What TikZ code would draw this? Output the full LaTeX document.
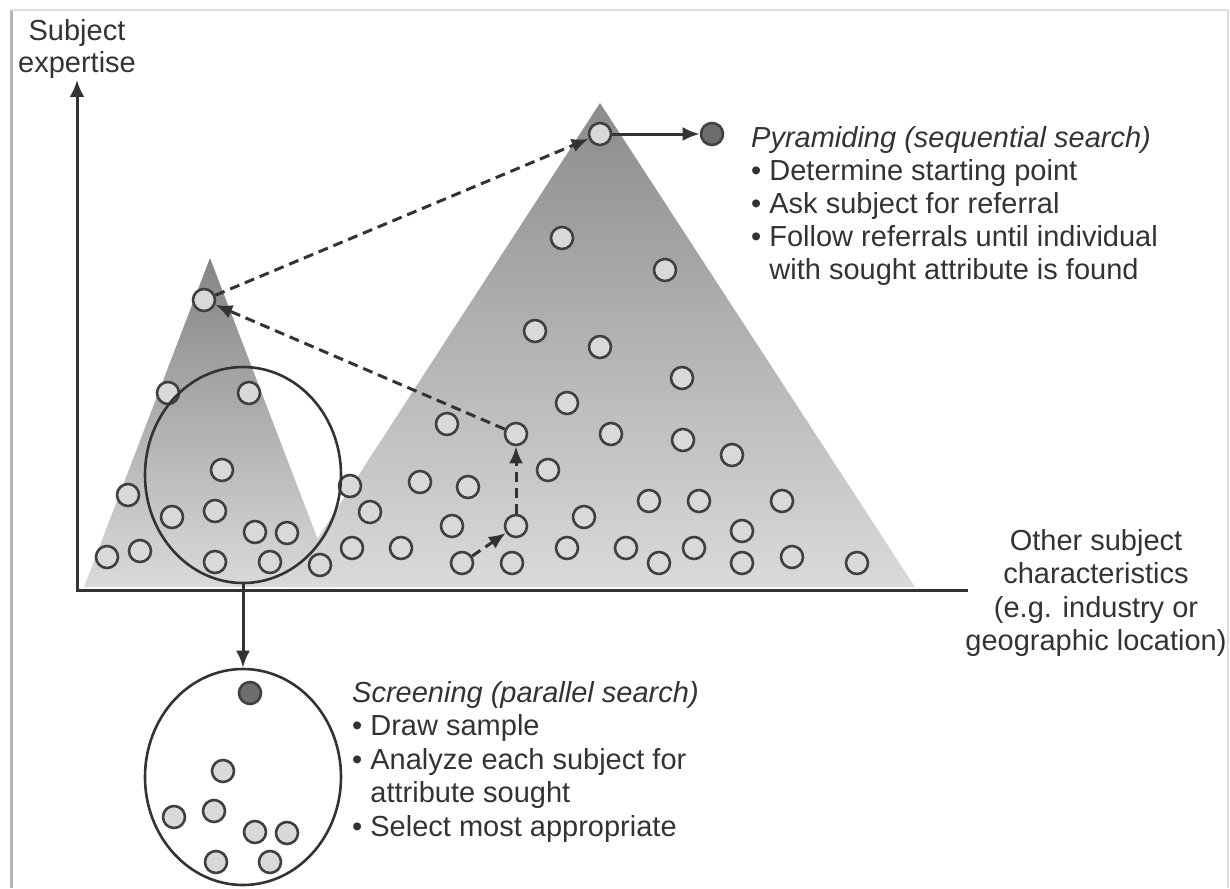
\documentclass[tikz,border=0pt]{standalone}
\usepackage{fontspec}
\setmainfont{Liberation Sans}
\usetikzlibrary{arrows.meta,shapes.geometric}
\definecolor{ink}{HTML}{333333}
\definecolor{dotline}{HTML}{404040}
\definecolor{dotfill}{HTML}{D9D9D9}
\definecolor{hitfill}{HTML}{6E6E6E}
\definecolor{pyrtop}{HTML}{8C8C8C}
\definecolor{pyrtopS}{HTML}{858585}
\definecolor{pyrbot}{HTML}{DADADA}
\definecolor{frameL}{HTML}{B4B4B4}
\definecolor{frameT}{HTML}{DCDCDC}
\begin{document}
\begin{tikzpicture}[x=1pt,y=-1pt,
  dot/.style={circle,draw=dotline,fill=dotfill,line width=2.6pt,minimum size=22pt,inner sep=0pt},
  hit/.style={dot,fill=hitfill},
  axis/.style={line width=3pt,draw=ink},
  tipx/.style={-{Latex[length=17pt,width=14pt]}},
  hop/.style={line width=3pt,draw=ink,dash pattern=on 10pt off 6pt,-{Latex[length=17pt,width=14pt]}},
  ring/.style={draw=ink,line width=2.6pt,ellipse,minimum width=196pt,minimum height=216pt,inner sep=0pt},
  lbl/.style={text=ink,inner sep=0pt}]
\useasboundingbox (0,0) rectangle (1230,888);

% outer frame
\draw[frameL,line width=3pt] (11,10) -- (11,888);
\draw[frameT,line width=2pt] (11,10) -- (1228,10);
\draw[frameT,line width=2pt] (1228,10) -- (1228,888);

% the two pyramids of expertise
\shade[top color=pyrtop,bottom color=pyrbot] (286,587) -- (600,103) -- (915,587) -- cycle;
\shade[top color=pyrtopS,bottom color=pyrbot] (84,587) -- (210,258) -- (336,587) -- cycle;

% axes
\coordinate (ytop) at (77,80);
\coordinate (origin) at (77,590);
\coordinate (xend) at (968,590);
\draw[axis,{Latex[length=17pt,width=15pt]}-,line join=miter] (ytop) -- (origin) -- (xend);

\node[lbl,align=center,anchor=north,font=\fontsize{29}{32}\selectfont] (ylabel) at (77,19) {Subject\\expertise};
\node[lbl,align=center,anchor=north,font=\fontsize{29}{33.4}\selectfont] (xlabel) at (1096,529)
  {Other subject\\characteristics\\(e.g. industry or\\geographic location)};

% subjects
\foreach \x/\y [count=\i] in {
  168/393, 128/495, 172/517, 215/511, 255/532, 287/533, 107/557, 140/551,
  215/562, 270/562, 320/565, 350/486, 370/512, 352/548, 401/548, 420/482,
  447/424, 468/487, 452/526, 512/563, 548/470, 567/403, 584/517, 567/548,
  611/434, 626/548, 659/563, 649/501, 683/440, 699/501, 694/548, 732/455,
  742/531, 742/563, 782/501, 792/557, 857/563, 682/378, 600/347, 535/331,
  665/270, 562/238, 222/470}
  \node[dot] (p\i) at (\x,\y) {};
\node[dot] (sel1) at (249,393) {};
\node[dot] (s0) at (462,563) {};
\node[dot] (s1) at (516,526) {};
\node[dot] (s2) at (516,434) {};
\node[dot] (s3) at (204,300) {};
\node[dot] (s4) at (600,134) {};
\node[hit] (found) at (712,134) {};

% sequential search path
\draw[hop] (s0) -- (s1);
\draw[hop] (s1) -- (s2);
\draw[hop] (s2) -- (s3);
\draw[hop] (s3) -- (s4);
\draw[axis,tipx] (s4) -- (found);

% screening sample
\node[ring] (sample) at (243,475) {};
\node[ring] (drawn) at (243,777) {};
\draw[axis,tipx] (sample.south) -- (drawn.north);

\node[hit] (q0) at (250,693) {};
\foreach \x/\y [count=\i] in {223/771, 174/817, 214/811, 255/832, 287/833, 216/862, 270/862}
  \node[dot] (q\i) at (\x,\y) {};

% descriptions
\node[lbl,align=left,anchor=north west,font=\fontsize{29}{33}\selectfont] (pyrtext) at (751,126)
  {\textit{Pyramiding (sequential search)}\\
   • Determine starting point\\
   • Ask subject for referral\\
   • Follow referrals until individual\\
   \hphantom{• }with sought attribute is found};
\node[lbl,align=left,anchor=north west,font=\fontsize{29}{33.5}\selectfont] (scrtext) at (352,681)
  {\textit{Screening (parallel search)}\\
   • Draw sample\\
   • Analyze each subject for\\
   \hphantom{• }attribute sought\\
   • Select most appropriate};
\end{tikzpicture}
\end{document}
